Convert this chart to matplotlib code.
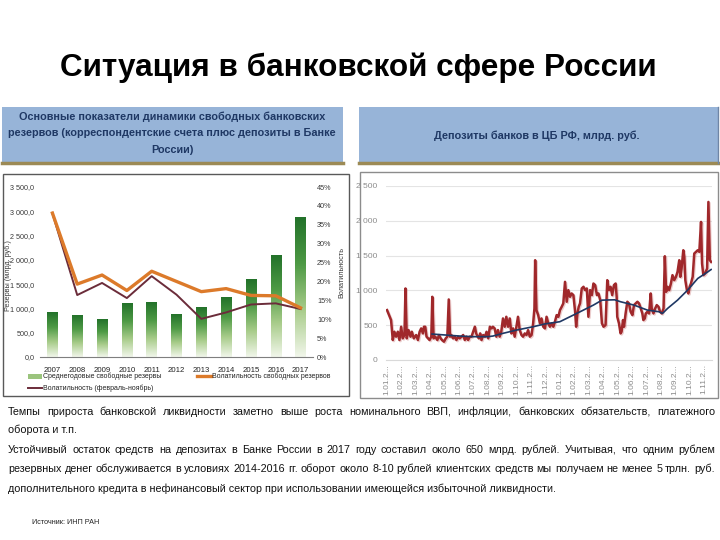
import numpy as np
import matplotlib.pyplot as plt
import matplotlib.patheffects as pe
from matplotlib.patches import Rectangle
from matplotlib.lines import Line2D
from matplotlib.colors import LinearSegmentedColormap

plt.rcParams['font.family'] = ['Liberation Sans', 'DejaVu Sans']

W, H = 720, 540

# --- left chart: free bank reserves
years = ['2007', '2008', '2009', '2010', '2011', '2012', '2013', '2014', '2015', '2016', '2017']
reserves = [920, 850, 770, 1100, 1125, 870, 1020, 1230, 1590, 2090, 2870]
vol_reserves = [38.1, 19.3, 21.7, 17.6, 22.7, 20.0, 17.3, 18.1, 16.3, 16.2, 13.0]
vol_feb_nov = [38.0, 16.4, 19.6, 15.6, 21.4, 16.5, 10.1, 11.8, 13.9, 14.2, 12.7]
left_ticks = ['0,0', '500,0', '1 000,0', '1 500,0', '2 000,0', '2 500,0', '3 000,0', '3 500,0']
right_ticks = ['0%', '5%', '10%', '15%', '20%', '25%', '30%', '35%', '40%', '45%']

# --- right chart: bank deposits at the CBR (months since 1.01.2016)
dep_month = [
    0.02, 0.30, 0.42, 0.53, 0.65, 0.77, 0.88, 1.00, 1.11, 1.23,
    1.30, 1.39, 1.51, 1.65, 1.74, 1.88, 2.04, 2.16, 2.28, 2.39,
    2.51, 2.58, 2.67, 2.76, 2.86, 2.97, 3.09, 3.16, 3.25, 3.37,
    3.51, 3.62, 3.74, 3.83, 3.97, 4.09, 4.20, 4.30, 4.39, 4.48,
    4.60, 4.72, 4.83, 4.95, 5.06, 5.18, 5.30, 5.41, 5.53, 5.64,
    5.76, 5.88, 5.99, 6.11, 6.20, 6.30, 6.39, 6.48, 6.57, 6.69,
    6.81, 6.92, 7.04, 7.15, 7.27,
    7.36, 7.48, 7.60, 7.71, 7.83, 7.94, 8.06, 8.18, 8.29, 8.41,
    8.53, 8.64, 8.76, 8.87, 8.99, 9.10, 9.22, 9.34, 9.45, 9.57,
    9.69, 9.80, 9.92, 10.04, 10.15, 10.24, 10.29, 10.38, 10.50, 10.62,
    10.73, 10.85, 10.97, 11.08, 11.20, 11.31, 11.43, 11.55, 11.66, 11.78,
    11.90, 12.01, 12.13, 12.24, 12.36, 12.48, 12.59, 12.71, 12.82, 12.94,
    13.06, 13.13, 13.22, 13.31, 13.40, 13.52, 13.64, 13.75, 13.87, 13.98,
    14.10, 14.22, 14.33, 14.45, 14.57, 14.68, 14.80, 14.92, 15.03,
    15.17, 15.29, 15.40, 15.52, 15.63, 15.75, 15.87, 15.94, 15.98, 16.10,
    16.21, 16.28, 16.38, 16.45, 16.56, 16.68, 16.79, 16.91, 17.03, 17.14,
    17.26, 17.38, 17.49, 17.61, 17.72, 17.79, 17.89, 17.96, 18.07, 18.19,
    18.30, 18.37, 18.49, 18.61, 18.72, 18.84, 18.95, 19.07, 19.19, 19.28,
    19.37, 19.47, 19.58, 19.70, 19.81, 19.93, 20.05, 20.16, 20.28, 20.35,
    20.44, 20.56, 20.63, 20.70, 20.81, 20.91, 21.00, 21.09, 21.21, 21.32,
    21.44, 21.56, 21.67, 21.79, 21.86, 21.95, 22.07, 22.21, 22.30, 22.40,
    22.49,
]
dep_value = [
    717, 574, 287, 406, 335, 406, 287, 478, 311, 359,
    1028, 311, 430, 335, 406, 311, 359, 287, 406, 454,
    382, 478, 478, 335, 311, 287, 335, 908, 311, 335,
    287, 359, 311, 287, 263, 311, 335, 870, 335, 359,
    311, 335, 287, 335, 311, 335, 359, 287, 335, 287,
    335, 335, 406, 478, 382, 335, 311, 382, 287, 359,
    335, 406, 311, 478, 454,
    478, 454, 335, 430, 335, 406, 597, 478, 621, 478,
    597, 382, 454, 335, 478, 621, 430, 359, 335, 382,
    359, 430, 335, 359, 526, 741, 1434, 717, 645, 526,
    597, 478, 454, 621, 526, 478, 526, 478, 550, 645,
    621, 717, 765, 813, 1123, 837, 1004, 908, 956, 932,
    693, 478, 669, 765, 813, 1028, 1052, 1004, 1028, 621,
    1004, 932, 1099, 1076, 932, 956, 860, 526, 478,
    502, 1147, 1004, 1052, 932, 1076, 1099, 908, 621, 526,
    382, 406, 574, 478, 669, 837, 813, 693, 645, 789,
    813, 837, 813, 741, 669, 574, 597, 669, 693, 669,
    956, 741, 669, 741, 789, 765, 693, 669, 741, 1491,
    980, 1052, 1004, 1099, 1219, 1147, 1195, 1267, 1434, 1195,
    1315, 1577, 1482, 1147, 1004, 956, 1052, 1099, 1195, 1530,
    1554, 1577, 1554, 1984, 1386, 1219, 1243, 1315, 2271, 1434,
    1410,
]
avg_month = [3.14, 4.0, 5.0, 6.0, 7.0, 7.36, 8.0, 9.0, 10.15, 11.0, 12.0, 13.17, 14.33,
             14.92, 15.8, 16.21, 17.14, 18.07, 18.88, 19.12, 19.47, 20.16, 20.86, 21.56,
             22.26, 22.49]
avg_value = [373, 360, 345, 335, 335, 344, 380, 430, 478, 520, 550, 669, 789,
             860, 865, 837, 789, 717, 693, 669, 741, 860, 1004, 1171,
             1267, 1300]
month_labels = ['1.01.2...', '1.02.2...', '1.03.2...', '1.04.2...', '1.05.2...', '1.06.2...',
                '1.07.2...', '1.08.2...', '1.09.2...', '1.10.2...', '1.11.2...', '1.12.2...',
                '1.01.2...', '1.02.2...', '1.03.2...', '1.04.2...', '1.05.2...', '1.06.2...',
                '1.07.2...', '1.08.2...', '1.09.2...', '1.10.2...', '1.11.2...']
dep_ticks = ['0', '500', '1 000', '1 500', '2 000', '2 500']

title = 'Ситуация в банковской сфере России'
left_header = ['Основные показатели динамики свободных банковских',
               'резервов (корреспондентские счета плюс депозиты в Банке',
               'России)']
right_header = 'Депозиты банков в ЦБ РФ, млрд. руб.'
body = [
    ('Темпы прироста банковской ликвидности заметно выше роста номинального ВВП, инфляции, '
     'банковских обязательств, платежного', True),
    ('оборота и т.п.', False),
    ('Устойчивый остаток средств на депозитах в Банке России в 2017 году составил около '
     '650 млрд. рублей. Учитывая, что одним рублем', True),
    ('резервных денег обслуживается в условиях 2014-2016 гг. оборот около 8-10 рублей '
     'клиентских средств мы получаем не менее 5 трлн. руб.', True),
    ('дополнительного кредита в нефинансовый сектор при использовании имеющейся избыточной '
     'ликвидности.', False),
]
source = 'Источник: ИНП РАН'


def box(x0, y0, x1, y1):
    return (x0 / W, 1 - y1 / H, (x1 - x0) / W, (y1 - y0) / H)


def fx(x):
    return x / W


def fy(y):
    return 1 - y / H


fig = plt.figure(figsize=(7.2, 5.4), dpi=100)
renderer = fig.canvas.get_renderer()


def fit_size(text, width, size=10, **kw):
    # font size that makes `text` about `width` pixels wide
    t = fig.text(0, 0, text, fontsize=size, **kw)
    w = t.get_window_extent(renderer).width
    t.remove()
    return size * width / w


fig.text(fx(358), fy(68), title, ha='center', va='center', weight='bold',
         fontsize=fit_size(title, 597, weight='bold'))

# header boxes
for x0, x1 in [(2, 343), (359, 718)]:
    fig.add_artist(Rectangle((fx(x0), fy(163)), (x1 - x0) / W, 56 / H, transform=fig.transFigure,
                             facecolor='#97B4D8', edgecolor='none'))
    fig.add_artist(Line2D([fx(x0), fx(x1)], [fy(163), fy(163)], transform=fig.transFigure,
                          color='#9C8A55', lw=2.5))
fig.add_artist(Line2D([fx(718), fx(718)], [fy(107), fy(163)], transform=fig.transFigure,
                      color='#6F86A6', lw=1))
hsize = fit_size(left_header[0], 305, weight='bold')
for i, line in enumerate(left_header):
    fig.text(fx(172), fy(117 + 16.5 * i), line, ha='center', va='center', fontsize=hsize,
             weight='bold', color='#1F3864')
fig.text(fx(537), fy(136), right_header, ha='center', va='center', fontsize=hsize,
         weight='bold', color='#1F3864')

# chart frames
fig.add_artist(Rectangle((fx(3), fy(396)), 346 / W, 222 / H, transform=fig.transFigure,
                         facecolor='none', edgecolor='#595959', lw=1))
fig.add_artist(Rectangle((fx(360), fy(398)), 358 / W, 226 / H, transform=fig.transFigure,
                         facecolor='none', edgecolor='#8C8C8C', lw=1))

# ---- left chart
small = dict(fontsize=5.2, color='#3A3A3A')
ax = fig.add_axes(box(40, 187, 313, 357))
x = np.arange(len(years))
bars = ax.bar(x, reserves, width=0.42, color='none', zorder=2)
green = LinearSegmentedColormap.from_list('grn', ['#F1F6EA', '#A8CC8A', '#4E9A45', '#23722A'])
grad = np.linspace(0, 1, 200).reshape(-1, 1)
for b in bars:
    ax.imshow(grad, cmap=green, origin='lower', aspect='auto', zorder=2,
              extent=(b.get_x(), b.get_x() + b.get_width(), 0, b.get_height()))
ax.set_xlim(-0.5, len(years) - 0.5)
ax.set_ylim(0, 3500)
ax.set_yticks(np.arange(0, 3501, 500))
ax.set_yticklabels(left_ticks, **small)
ax.set_xticks(x)
ax.set_xticklabels(years, fontsize=5.6, color='#222222')
ax.tick_params(axis='y', length=0, pad=4)
ax.tick_params(axis='x', length=0, pad=7)
for s in ['top', 'left', 'right']:
    ax.spines[s].set_visible(False)
ax.spines['bottom'].set_color('#7F7F7F')

ax2 = ax.twinx()
ax2.plot(x, vol_feb_nov, color='#6B2C3A', lw=1.4, zorder=3)
ax2.plot(x, vol_reserves, color='#DC7A2A', lw=2.4, zorder=4)
ax2.set_ylim(0, 45)
ax2.set_yticks(np.arange(0, 46, 5))
ax2.set_yticklabels(right_ticks, **small)
ax2.tick_params(axis='y', length=0, pad=3)
for s in ['top', 'left', 'right', 'bottom']:
    ax2.spines[s].set_visible(False)

fig.text(fx(8), fy(276), 'Резервы (млрд. руб.)', rotation=90, ha='center', va='center', **small)
fig.text(fx(342), fy(272), 'Волатильность', rotation=90, ha='center', va='center', **small)

# legend
leg = dict(fontsize=5.0, color='#222222', va='center')
fig.add_artist(Rectangle((fx(28), fy(378.5)), 14 / W, 5 / H, transform=fig.transFigure,
                         facecolor='#9BC47D', edgecolor='none'))
fig.text(fx(43), fy(376), 'Среднегодовые свободные резервы', **leg)
fig.add_artist(Line2D([fx(197), fx(211)], [fy(376), fy(376)], transform=fig.transFigure,
                      color='#DC7A2A', lw=2.4))
fig.text(fx(212), fy(376), 'Волатильность свободных резервов', **leg)
fig.add_artist(Line2D([fx(28), fx(42)], [fy(388), fy(388)], transform=fig.transFigure,
                      color='#6B2C3A', lw=1.4))
fig.text(fx(43), fy(388), 'Волатильность (февраль-ноябрь)', **leg)

# ---- right chart
ax3 = fig.add_axes(box(386, 186, 712, 360))
ax3.plot(dep_month, dep_value, color='#A0282B', lw=1.8, zorder=3,
         path_effects=[pe.SimpleLineShadow(offset=(0.8, -0.8), shadow_color='#C87070', alpha=0.35),
                       pe.Normal()])
ax3.plot(avg_month, avg_value, color='#1F3864', lw=1.2, zorder=4)
ax3.set_xlim(-0.05, 22.55)
ax3.set_ylim(0, 2500)
ax3.set_yticks(np.arange(0, 2501, 500))
ax3.set_yticklabels(dep_ticks, fontsize=6, color='#8C8C8C')
ax3.set_xticks(np.arange(len(month_labels)))
ax3.set_xticklabels(month_labels, rotation=90, fontsize=6, color='#8C8C8C')
ax3.tick_params(axis='both', length=0)
ax3.tick_params(axis='y', pad=6)
ax3.tick_params(axis='x', pad=3)
ax3.grid(axis='y', color='#E4E4E4', lw=0.8)
ax3.set_axisbelow(True)
for s in ['top', 'left', 'right']:
    ax3.spines[s].set_visible(False)
ax3.spines['bottom'].set_color('#D9D9D9')

# ---- body text, justified lines
X0, X1 = 8, 715
bsize = fit_size(body[4][0], 545)
style = dict(fontsize=bsize, color='#111111', va='center', ha='left')
for (line, justify), y in zip(body, [412, 430, 450, 469, 489]):
    if not justify:
        fig.text(fx(X0), fy(y), line, **style)
        continue
    words = line.split(' ')
    arts = [fig.text(0, fy(y), w, **style) for w in words]
    widths = [a.get_window_extent(renderer).width for a in arts]
    gap = (X1 - X0 - sum(widths)) / (len(words) - 1)
    pos = X0
    for a, wd in zip(arts, widths):
        a.set_x(fx(pos))
        pos += wd + gap

fig.text(fx(32), fy(523), source, fontsize=5.2, color='#222222', va='center')

fig.savefig('out.png', dpi=100)
